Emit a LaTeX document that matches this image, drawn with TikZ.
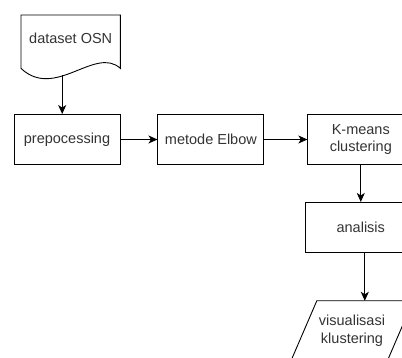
\documentclass[tikz,border=0pt]{standalone}
\usepackage{fontspec}
\setmainfont{Liberation Sans}
\usetikzlibrary{positioning,arrows.meta}

\begin{document}
\begin{tikzpicture}[
x=1pt, y=-1pt,
font=\fontsize{14.5}{17.5}\selectfont,
stepbox/.style={draw, line width=0.9pt, minimum width=106pt, minimum height=50pt,
                align=center, inner sep=2pt, text=black!80},
arr/.style={-{Stealth[length=9pt,width=8pt,inset=2.5pt]}, line width=0.9pt}
]
\useasboundingbox (0,0) rectangle (402,358);

% dataset
\node[minimum width=99pt, minimum height=46pt, inner sep=0pt, text=black!80,
  anchor=north west] (doc) at (21,15) {dataset OSN};
\draw[line width=0.9pt] (doc.north west) -- ([shift={(0,7)}]doc.south west)
  .. controls ([shift={(34,39)}]doc.south west) and ([shift={(-25,-16)}]doc.south east)
  .. ([shift={(0,7)}]doc.south east) -- (doc.north east) -- cycle;
\coordinate (docout) at ([shift={(-8.5,14)}]doc.south);

% steps
\node[stepbox] (prep) at (67,139.5) {prepocessing};
\node[stepbox, right=37pt of prep] (elbow) {metode Elbow};
\node[stepbox, right=43pt of elbow] (kmeans) {K-means\\clustering};
\node[stepbox, minimum width=110pt, below=37pt of kmeans] (analisis) {analisis};

% output
\node[minimum width=96pt, minimum height=60pt, align=center, text=black!80] (vis) at (352,331) {visualisasi\\klustering};
\draw[line width=0.9pt] ([xshift=-13pt]vis.south west) -- ([xshift=13pt]vis.north west)
  -- ([xshift=13pt]vis.north east) -- ([xshift=-13pt]vis.south east) -- cycle;

% arrows
\draw[arr] (docout) -- (docout |- prep.north);
\draw[arr] (prep) -- (elbow);
\draw[arr] (elbow) -- (kmeans);
\draw[arr] (kmeans) -- (analisis);
\draw[arr] ([xshift=4pt]analisis.south) -- ([xshift=4pt]analisis.south |- vis.north);

\end{tikzpicture}
\end{document}
